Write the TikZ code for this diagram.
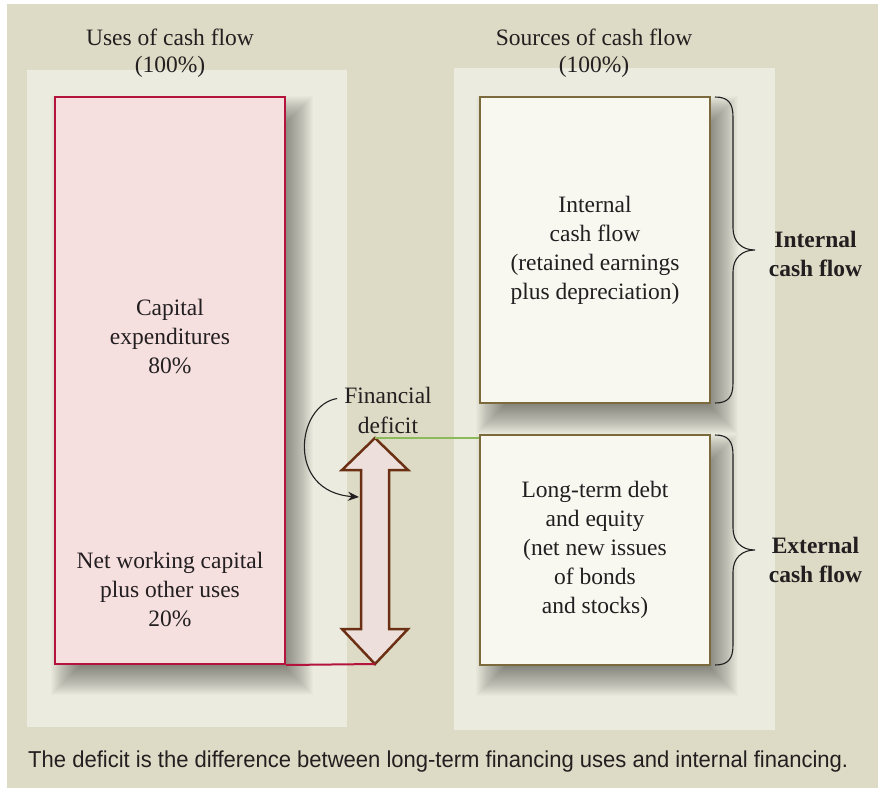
\documentclass[tikz,border=0pt]{standalone}
\usepackage{fontspec}
\setmainfont{Liberation Serif}
\newfontfamily\capsans{Liberation Sans}
\usetikzlibrary{arrows.meta,calc}
\definecolor{bgout}{RGB}{221,219,197}
\definecolor{panel}{RGB}{235,235,224}
\definecolor{redfill}{RGB}{245,223,223}
\definecolor{redline}{RGB}{180,20,60}
\definecolor{srcfill}{RGB}{248,247,240}
\definecolor{srcline}{RGB}{122,106,60}
\definecolor{arrfill}{RGB}{237,224,220}
\definecolor{arrline}{RGB}{107,48,20}
\definecolor{greenline}{RGB}{140,185,90}
\definecolor{ink}{RGB}{35,31,32}
\newcommand\softshadow[4]{%
  \foreach \k in {0,1,...,32} {%
    \fill[black,opacity=0.016] ({#1-4+\k},{#2-1+\k}) rectangle ({#3+28-\k},{#4+31-\k});
  }%
}
\newcommand\cfbrace[3]{% top, bottom, tip y
  \draw[bracestyle] (715,#1) .. controls (728,#1) and (733,{#1+6}) .. (733,{#1+20})
    -- (733,{#3-22}) .. controls (733,{#3-8}) and (742,#3) .. (755,#3)
    .. controls (742,#3) and (733,{#3+8}) .. (733,{#3+22})
    -- (733,{#2-20}) .. controls (733,{#2-6}) and (728,#2) .. (715,#2);
}
\begin{document}
\begin{tikzpicture}[x=1pt,y=-1pt,
  txt/.style={font=\fontsize{23.5}{29}\selectfont, text=ink, align=center, inner sep=0pt},
  boldtxt/.style={txt, font=\fontsize{23.5}{29}\selectfont\bfseries},
  usebox/.style={draw=redline, line width=2pt, fill=redfill, minimum width=230pt, minimum height=567pt, inner sep=0pt},
  srcbox/.style={txt, draw=srcline, line width=2.5pt, fill=srcfill, minimum width=230pt},
  dblarrow/.style={draw=arrline, line width=2.5pt, fill=arrfill, line join=miter},
  bracestyle/.style={draw=ink, line width=1.1pt},
  pointer/.style={draw=ink, line width=1.1pt, -{Stealth[length=11pt,width=9pt]}},
]
\useasboundingbox (0,0) rectangle (878,788);
\fill[white] (0,0) rectangle (878,788);
\fill[bgout] (7,4) rectangle (878,788);
% panels
\fill[panel] (27,70) rectangle (347,727);
\fill[panel] (454,68) rectangle (775,730);
% shadows
\softshadow{55}{97}{285}{664}
\softshadow{480}{97}{710}{403}
\softshadow{480}{435}{710}{665}
% boxes
\node[usebox] (uses) at (170,380.5) {};
\node[srcbox, minimum height=306pt] (intbox) at (595,250) {Internal\\cash flow\\(retained earnings\\plus depreciation)};
\node[srcbox, minimum height=230pt] (extbox) at (595,550) {Long-term debt\\and equity\\(net new issues\\of bonds\\and stocks)};
% texts in uses box
\node[txt] (capex) at (170,336) {Capital\\expenditures\\80\%};
\node[txt] (nwc) at (170,589.5) {Net working capital\\plus other uses\\20\%};
% titles
\node[txt, font=\fontsize{23.5}{27}\selectfont] (titleL) at (170,53.5) {Uses of cash flow\\(100\%)};
\node[txt, font=\fontsize{23.5}{27}\selectfont] (titleR) at (594,53.5) {Sources of cash flow\\(100\%)};
% double arrow
\coordinate (atop) at (375,438);
\coordinate (abot) at (375,664);
\draw[dblarrow] (atop) -- (408,470) -- (389,470) -- (389,629) -- (408,629) -- (abot)
  -- (342,629) -- (361,629) -- (361,470) -- (342,470) -- cycle;
\coordinate (aleft) at (359,497);
% connecting lines
\draw[greenline, line width=2pt] (atop) -- (atop -| extbox.west);
\draw[redline, line width=2pt] (uses.south east) -- (abot);
% financial deficit
\node[txt, font=\fontsize{23.5}{30}\selectfont] (fin) at (388,410) {Financial\\deficit};
\draw[pointer] ($(fin.north west)+(-7,12)$) .. controls (296,405) and (286,492) .. (aleft);
% braces
\cfbrace{97}{403}{250}
\cfbrace{435}{665}{550}
\node[boldtxt] (intl) at (815.5,253.5) {Internal\\cash flow};
\node[boldtxt] (extl) at (815.5,559.5) {External\\cash flow};
% caption
\node[anchor=base west, inner sep=0pt, text=ink] (cap) at (28,767)
  {\resizebox{820pt}{\height}{\capsans\fontsize{23}{27}\selectfont The deficit is the difference between long-term financing uses and internal financing.}};
\end{tikzpicture}
\end{document}
